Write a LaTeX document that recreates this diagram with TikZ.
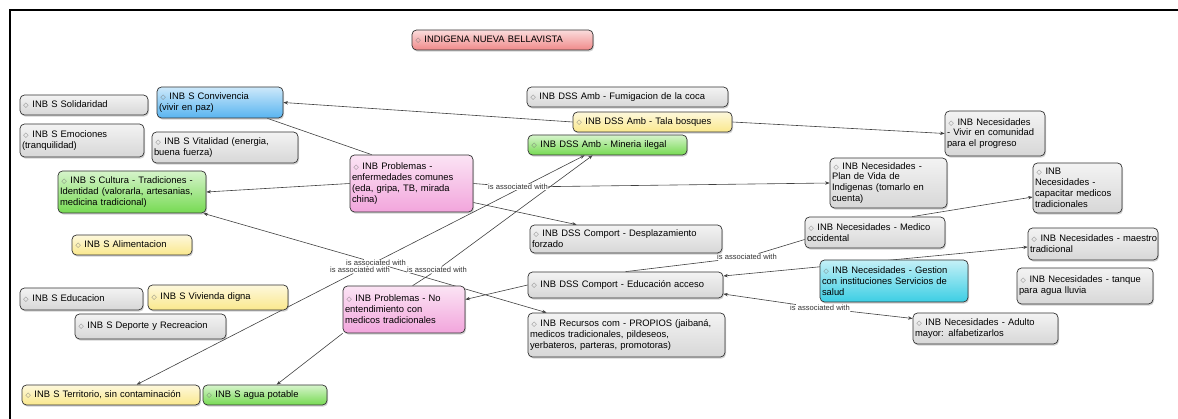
\documentclass[tikz,border=0pt]{standalone}
\usepackage{fontspec}
\setmainfont{Liberation Sans}
\newfontfamily\symfont{DejaVu Sans}
\usetikzlibrary{arrows.meta,shadows,backgrounds}

\definecolor{cmgray}{RGB}{215,215,215}
\definecolor{cmred}{RGB}{240,138,138}
\definecolor{cmblue}{RGB}{88,180,240}
\definecolor{cmgreen}{RGB}{118,218,82}
\definecolor{cmyellow}{RGB}{250,232,140}
\definecolor{cmpink}{RGB}{242,165,220}
\definecolor{cmcyan}{RGB}{60,206,228}

\tikzset{
  concept/.style={draw=black!80, line width=0.7pt, rounded corners=4.5pt,
    inner xsep=2pt, inner ysep=1.5pt, align=left,
    font=\fontsize{9.4}{10.9}\selectfont,
    execute at begin node={\hyphenpenalty=10000\exhyphenpenalty=10000},
    drop shadow={shadow xshift=1pt, shadow yshift=-1.6pt, opacity=0.35}},
  cfill/.style={top color=#1!30!white, bottom color=#1},
  lphrase/.style={font=\fontsize{7.6}{8}\selectfont, text=black!80,
    inner sep=0.5pt, fill=white},
  cline/.style={draw=black!75, line width=0.6pt},
  conn/.style={cline, -{Stealth[length=4.5pt,width=3.4pt]}},
  both/.style={cline, {Stealth[length=4.5pt,width=3.4pt]}-{Stealth[length=4.5pt,width=3.4pt]}},
}

% small diamond that opens every concept label
\newcommand\cmapdia{\hspace*{1.5pt}{\symfont\fontsize{6.8}{6.8}\selectfont\color{black!55}◇}\nobreak\hspace{0.4em}}

% concept box: name, colour, left, top, right, bottom, text
\newcommand\cmapnode[7]{%
  \pgfmathsetmacro\cmW{#5-#3-4}%
  \pgfmathsetmacro\cmH{#6-#4}%
  \pgfmathsetmacro\cmX{(#3+#5)/2}%
  \pgfmathsetmacro\cmY{(#4+#6)/2}%
  \node[concept,cfill=#2,text width=\cmW pt,minimum height=\cmH pt] (#1) at (\cmX,\cmY) {\cmapdia #7};}

\begin{document}
\begin{tikzpicture}[x=1pt,y=-1pt]
\useasboundingbox (0,0) rectangle (1178,419);

% frame
\draw[line width=1.2pt] (10,419) -- (10,10) -- (1178,10);

% linking phrases
\node[lphrase] (lab5) at (518,187) {is associated with};
\node[lphrase] (lab1) at (376,263) {is associated with};
\node[lphrase] (lab2) at (360,270) {is associated with};
\node[lphrase] (lab3) at (437,270) {is associated with};
\node[lphrase] (lab6) at (747,257) {is associated with};
\node[lphrase] (lab8) at (820,308) {is associated with};

% concepts
\cmapnode{indigena}{cmred}{412}{30}{593}{50}{INDIGENA NUEVA BELLAVISTA}
\cmapnode{solid}{cmgray}{20}{95}{148}{115}{INB S Solidaridad}
\cmapnode{conv}{cmblue}{157}{87}{283}{118}{INB S Convivencia\\(vivir en paz)}
\cmapnode{emoc}{cmgray}{20}{124}{144}{157}{INB S Emociones\\(tranquilidad)}
\cmapnode{vital}{cmgray}{152}{132}{298}{163}{INB S Vitalidad (energia,\\buena fuerza)}
\cmapnode{fumig}{cmgray}{527}{87}{728}{107}{INB DSS Amb - Fumigacion de la coca}
\cmapnode{tala}{cmyellow}{573}{112}{732}{132}{INB DSS Amb - Tala bosques}
\cmapnode{mineria}{cmgreen}{528}{135}{687}{155}{INB DSS Amb - Mineria ilegal}
\cmapnode{vivir}{cmgray}{945}{111}{1045}{156}{INB Necesidades\\- Vivir en comunidad\\para el progreso}
\cmapnode{probEnf}{cmpink}{350}{155}{473}{212}{INB Problemas -\\enfermedades comunes\\(eda, gripa, TB, mirada\\china)}
\cmapnode{cultura}{cmgreen}{58}{171}{206}{213}{INB S Cultura - Tradiciones -\\Identidad (valorarla, artesanias,\\medicina tradicional)}
\cmapnode{plan}{cmgray}{830}{158}{947}{208}{INB Necesidades -\\Plan de Vida de\\Indigenas (tomarlo en\\cuenta)}
\cmapnode{capac}{cmgray}{1033}{163}{1122}{213}{INB\\Necesidades -\\capacitar medicos\\tradicionales}
\cmapnode{alim}{cmyellow}{72}{235}{192}{255}{INB S Alimentacion}
\cmapnode{desp}{cmgray}{530}{225}{722}{253}{INB DSS Comport - Desplazamiento\\forzado}
\cmapnode{medico}{cmgray}{805}{217}{945}{248}{INB Necesidades - Medico\\occidental}
\cmapnode{maestro}{cmgray}{1028}{228}{1158}{260}{\mbox{INB Necesidades - maestro}\\tradicional}
\cmapnode{educ}{cmgray}{528}{272}{723}{298}{INB DSS Comport - Educación acceso}
\cmapnode{gestion}{cmcyan}{820}{260}{968}{302}{INB Necesidades - Gestion\\con instituciones Servicios de\\salud}
\cmapnode{tanque}{cmgray}{1017}{268}{1153}{304}{INB Necesidades - tanque\\para agua lluvia}
\cmapnode{educS}{cmgray}{20}{288}{143}{310}{INB S Educacion}
\cmapnode{vivienda}{cmyellow}{148}{285}{288}{310}{INB S Vivienda digna}
\cmapnode{deporte}{cmgray}{75}{314}{226}{339}{INB S Deporte y Recreacion}
\cmapnode{probNo}{cmpink}{343}{286}{465}{333}{INB Problemas - No\\entendimiento con\\medicos tradicionales}
\cmapnode{recursos}{cmgray}{528}{313}{725}{357}{INB Recursos com - PROPIOS (jaibaná,\\medicos tradicionales, pildeseos,\\yerbateros, parteras, promotoras)}
\cmapnode{adulto}{cmgray}{913}{313}{1058}{344}{INB Necesidades - Adulto\\mayor: alfabetizarlos}
\cmapnode{territorio}{cmyellow}{22}{385}{200}{405}{INB S Territorio, sin contaminación}
\cmapnode{agua}{cmgreen}{203}{385}{327}{405}{INB S agua potable}

% connectors, kept under the boxes and phrases
\begin{scope}[on background layer]
  \draw[cline] ([xshift=-16pt]conv.south east) -- ([xshift=22pt]probEnf.north west);
  \draw[conn] (tala.west) -- (conv.east);
  \draw[conn] (tala.east) -- (vivir.west);
  \draw[conn] (probEnf.west) -- (cultura.east);
  \draw[cline] (probEnf.east) -- (lab5);
  \draw[conn] (lab5) -- (plan.west);
  \draw[conn] ([yshift=-19pt]probEnf.east) -- ([xshift=47pt]desp.north west);
  \draw[conn] (lab1) -- ([xshift=-3pt]cultura.south east);
  \draw[conn] (lab1) -- ([xshift=19pt]recursos.north west);
  \draw[conn] (lab2) -- ([xshift=115pt]territorio.north west);
  \draw[conn] (lab2) -- ([xshift=57pt]mineria.south west);
  \draw[cline] ([xshift=70pt]probNo.north west) -- (lab3);
  \draw[conn] (lab3) -- ([xshift=65pt]mineria.south west);
  \draw[conn] (probNo.south west) -- ([xshift=74pt]agua.north west);
  \draw[conn] (educ.west) -- ([yshift=10pt]probNo.east);
  \draw[cline] (educ.north) -- (lab6);
  \draw[cline] (lab6) -- ([yshift=-7pt]medico.west);
  \draw[conn] ([xshift=37pt]medico.north) -- ([yshift=-9pt]capac.west);
  \draw[both] ([yshift=9pt]educ.east) -- ([yshift=-3pt]maestro.west);
  \draw[conn] (lab8) -- ([yshift=-9pt]educ.east);
  \draw[conn] (lab8) -- ([yshift=10pt]adulto.west);
\end{scope}
\end{tikzpicture}
\end{document}
